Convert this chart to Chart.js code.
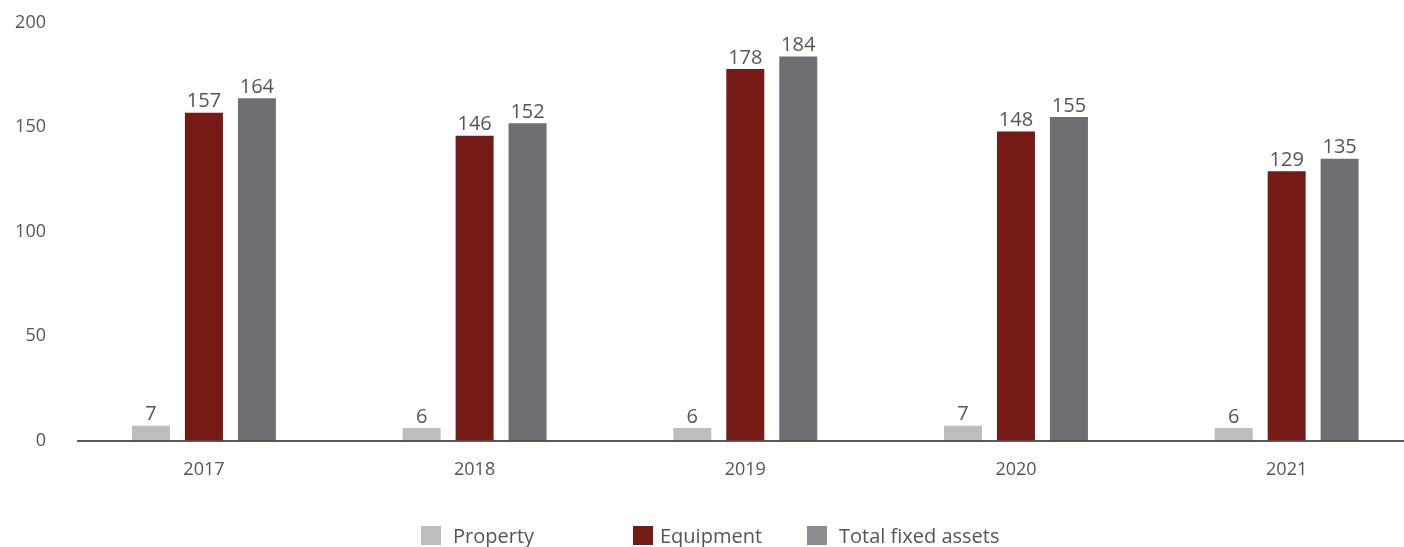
<!DOCTYPE html>
<html>
<head>
<meta charset="utf-8">
<script src="https://cdn.jsdelivr.net/npm/chart.js@4/dist/chart.umd.min.js"></script>
<style>
  html, body { margin: 0; padding: 0; background: #fff; overflow: hidden; }
  #wrap { position: relative; width: 1430px; height: 547px; }
  #legend { position: absolute; top: 524px; left: 0; width: 1404px; height: 23px;
            font-family: "Open Sans", Lato, sans-serif; font-size: 20px; color: #555; }
  .item { position: absolute; top: 0; display: flex; align-items: center; height: 22px; white-space: nowrap; }
  .box { width: 20px; height: 19px; margin-right: 12px; }
</style>
</head>
<body>
<div id="wrap">
  <canvas id="c"></canvas>
  <div id="legend"></div>
</div>
<script>
// Fixed assets by year
const years = ['2017', '2018', '2019', '2020', '2021'];
const property = [7, 6, 6, 7, 6];
const equipment = [157, 146, 178, 148, 129];
const totalFixedAssets = [164, 152, 184, 155, 135];
const seriesNames = ['Property', 'Equipment', 'Total fixed assets'];
const seriesColors = ['#bdbdbf', '#761a16', '#6e6f73'];
const legendColors = ['#bdbdbf', '#761a16', '#8b8c8f'];
const legendLeft = [421, 633, 807];
const yTicks = [0, 50, 100, 150, 200];

const FONT = '"Open Sans", Lato, sans-serif';
const TEXT = '#555';

// Value labels above each bar
const valueLabels = {
  id: 'valueLabels',
  afterDatasetsDraw(chart) {
    const ctx = chart.ctx;
    ctx.save();
    ctx.font = '20px ' + FONT;
    ctx.fillStyle = TEXT;
    ctx.textAlign = 'center';
    ctx.textBaseline = 'bottom';
    chart.data.datasets.forEach((ds, i) => {
      chart.getDatasetMeta(i).data.forEach((bar, j) => {
        ctx.fillText(String(ds.data[j]), bar.x, bar.y - 1);
      });
    });
    ctx.restore();
  }
};

// Baseline along zero, starting just inside the plot area
const baseline = {
  id: 'baseline',
  afterDatasetsDraw(chart) {
    const { ctx, chartArea, scales } = chart;
    const y = scales.y.getPixelForValue(0);
    ctx.save();
    ctx.strokeStyle = '#222';
    ctx.lineWidth = 1.5;
    ctx.beginPath();
    ctx.moveTo(chartArea.left + 8.5, y + 0.5);
    ctx.lineTo(1404, y + 0.5);
    ctx.stroke();
    ctx.restore();
  }
};

const seriesData = [property, equipment, totalFixedAssets];

new Chart(document.getElementById('c'), {
  type: 'bar',
  data: {
    labels: years,
    datasets: seriesData.map((d, i) => ({
      label: seriesNames[i],
      data: d,
      backgroundColor: seriesColors[i],
      borderWidth: 0,
      barPercentage: 0.717,
      categoryPercentage: 0.587
    }))
  },
  options: {
    responsive: true,
    maintainAspectRatio: false,
    animation: false,
    layout: { padding: { top: 23, right: 8, bottom: 47, left: 0 } },
    plugins: { legend: { display: false }, tooltip: { enabled: false } },
    scales: {
      x: {
        grid: { display: false, drawTicks: false },
        border: { display: false },
        ticks: { color: TEXT, font: { family: FONT, size: 18 }, padding: 19 }
      },
      y: {
        min: 0, max: 200,
        afterBuildTicks(scale) { scale.ticks = yTicks.map(v => ({ value: v })); },
        afterFit(scale) { scale.width = 68.6; scale.paddingTop = 0; scale.paddingBottom = 0; },
        grid: { display: false, drawTicks: false },
        border: { display: false },
        ticks: { color: TEXT, font: { family: FONT, size: 18 }, padding: 22.6 }
      }
    }
  },
  plugins: [valueLabels, baseline]
});

// Legend
const legend = document.getElementById('legend');
seriesNames.forEach((name, i) => {
  const item = document.createElement('div');
  item.className = 'item';
  item.style.left = legendLeft[i] + 'px';
  const box = document.createElement('span');
  box.className = 'box';
  box.style.background = legendColors[i];
  if (i === 1) box.style.marginRight = '7px';
  const txt = document.createElement('span');
  txt.textContent = name;
  item.appendChild(box);
  item.appendChild(txt);
  legend.appendChild(item);
});
</script>
</body>
</html>
